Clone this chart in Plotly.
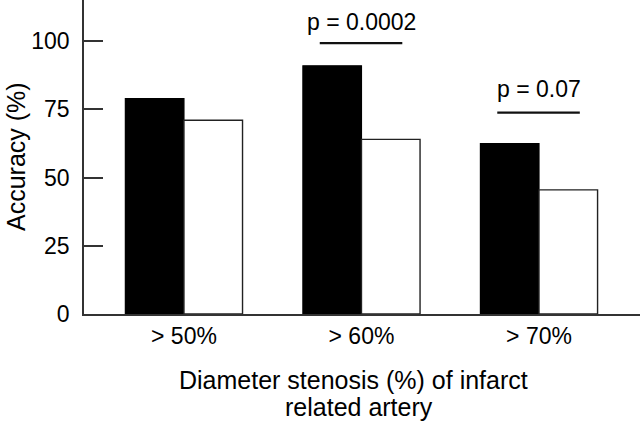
import plotly.graph_objects as go

categories = ["> 50%", "> 60%", "> 70%"]
black_values = [79, 91, 62.5]
white_values = [71, 64, 45.5]
y_ticks = [0, 25, 50, 75, 100]
p_labels = ["p = 0.0002", "p = 0.07"]
p_category_index = [1, 2]
p_text_y = [107.2, 82.3]
p_line_y = [99.3, 73.8]
x_title_lines = ["Diameter stenosis (%) of infarct", "related artery"]
y_title = "Accuracy (%)"

FONT = "Liberation Sans, Arial, Helvetica, sans-serif"

fig = go.Figure()
fig.add_trace(go.Bar(x=categories, y=black_values, marker=dict(color="black", line=dict(color="black", width=1.2)), showlegend=False))
fig.add_trace(go.Bar(x=categories, y=white_values, marker=dict(color="white", line=dict(color="#222222", width=1.4)), showlegend=False))

for lab, ci, ty, ly in zip(p_labels, p_category_index, p_text_y, p_line_y):
    fig.add_annotation(x=ci, y=ty, xref="x", yref="y", text=lab, showarrow=False,
                       font=dict(size=23, color="black", family=FONT), yanchor="middle", xanchor="center")
    fig.add_shape(type="line", xref="x", yref="y", x0=ci - 0.235, x1=ci + 0.23, y0=ly, y1=ly,
                  line=dict(color="#111111", width=2.2))

fig.add_annotation(xref="paper", yref="paper", x=-0.1223, y=0.5, text=y_title, textangle=-90,
                   showarrow=False, font=dict(size=25, color="black", family=FONT),
                   xanchor="center", yanchor="middle", borderpad=0)
for txt, yp, xp in zip(x_title_lines, [-0.2102, -0.2962], [0.4856, 0.4946]):
    fig.add_annotation(xref="paper", yref="paper", x=xp, y=yp, text=txt,
                       showarrow=False, font=dict(size=25, color="black", family=FONT),
                       xanchor="center", yanchor="middle", borderpad=0)

fig.update_layout(
    width=640, height=424,
    margin=dict(l=84, r=0, t=0, b=110),
    paper_bgcolor="white", plot_bgcolor="white",
    barmode="group", bargap=0.34, bargroupgap=0,
    font=dict(family=FONT, color="black", size=23),
)
fig.update_xaxes(range=[-0.563, 2.569], showline=True, linecolor="#333333", linewidth=1.5,
                 ticks="", showgrid=False, zeroline=False,
                 tickfont=dict(size=23, color="black", family=FONT), ticklabelstandoff=1)
fig.update_yaxes(range=[0, 115.1], tickvals=y_ticks, showline=True, linecolor="#333333", linewidth=1.5,
                 ticks="inside", ticklen=19, tickwidth=1.5, tickcolor="#333333",
                 showgrid=False, zeroline=False,
                 tickfont=dict(size=23, color="black", family=FONT), ticklabelstandoff=8)

fig.write_html("out.html", config={"displayModeBar": False},
               post_script="document.body.style.margin='0';document.body.style.padding='0';")
